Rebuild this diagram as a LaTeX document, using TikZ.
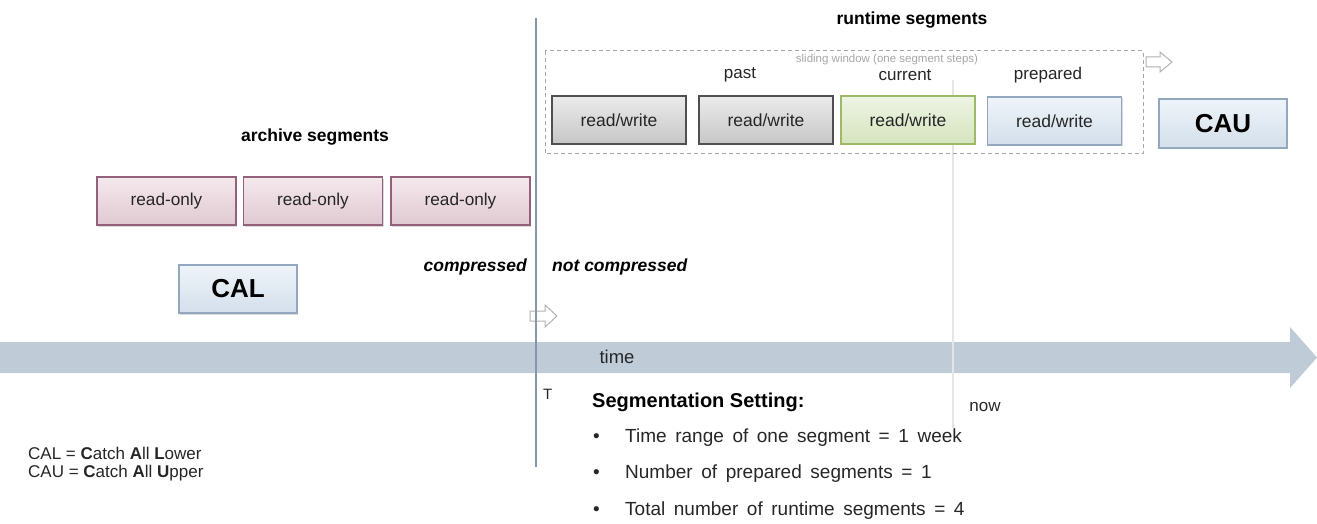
\documentclass[tikz,border=0pt]{standalone}
\usepackage{fontspec}
\setmainfont{Liberation Sans}
\usetikzlibrary{shadows}
\newcommand\widespaces{\spaceskip=8.6pt plus 1pt minus 1pt\relax}
\definecolor{band}{HTML}{BFCCD7}
\definecolor{vline}{HTML}{8597A9}
\definecolor{txt}{HTML}{262626}
\definecolor{grayTop}{HTML}{EBEBEB}
\definecolor{grayBot}{HTML}{C6C6C6}
\definecolor{grayBd}{HTML}{505050}
\definecolor{grnTop}{HTML}{EEF4E4}
\definecolor{grnBot}{HTML}{D6E4BE}
\definecolor{grnBd}{HTML}{9DBA68}
\definecolor{bluTop}{HTML}{EFF4F9}
\definecolor{bluBot}{HTML}{D3DFEB}
\definecolor{bluBd}{HTML}{93A7BF}
\definecolor{pnkTop}{HTML}{F4E9ED}
\definecolor{pnkBot}{HTML}{E0C9D1}
\definecolor{pnkBd}{HTML}{93627A}
\begin{document}
\begin{tikzpicture}[x=1pt,y=-1pt,
  seg/.style={draw, line width=1.2pt, minimum height=48pt, inner sep=0pt,
     font=\fontsize{17.5}{20}\selectfont, text=txt,
     drop shadow={shadow xshift=1pt,shadow yshift=-1.5pt,opacity=0.3}},
  graybox/.style={seg, draw=grayBd, top color=grayTop, bottom color=grayBot, minimum width=134pt},
  greenbox/.style={seg, draw=grnBd, top color=grnTop, bottom color=grnBot, minimum width=134pt},
  bluebox/.style={seg, draw=bluBd, top color=bluTop, bottom color=bluBot, minimum width=134pt},
  pinkbox/.style={seg, draw=pnkBd, top color=pnkTop, bottom color=pnkBot, minimum width=139pt, font=\fontsize{17.2}{20}\selectfont},
  catch/.style={seg, draw=bluBd, top color=bluTop, bottom color=bluBot, font=\fontsize{26}{30}\selectfont\bfseries, text=black},
  lbl/.style={font=\fontsize{17}{20}\selectfont, text=txt, inner sep=0pt},
  hdr/.style={font=\fontsize{17.5}{20}\selectfont\bfseries, text=black, inner sep=0pt},
  ital/.style={font=\fontsize{17.5}{20}\selectfont\bfseries\itshape, text=black, inner sep=0pt},
  bul/.style={font=\fontsize{19}{22}\selectfont\widespaces, text=txt, inner sep=0pt, anchor=west},
  hollow/.style={draw=black!30, fill=white, line width=1pt}
]
\useasboundingbox (0,0) rectangle (1317,524);
% time band
\fill[band] (0,342) -- (1290,342) -- (1290,327) -- (1317,357.5) -- (1290,388) -- (1290,373) -- (0,373) -- cycle;
\node[lbl, font=\fontsize{18.5}{22}\selectfont] (time) at (617,357) {time};
% hollow arrow at T
\draw[hollow] (530,311) -- (545,311) -- (545,305) -- (557,316) -- (545,327) -- (545,321) -- (530,321) -- cycle;
% vertical T line
\draw[vline, line width=2pt] (536,18) -- (536,467);
% now line
\draw[black!10, line width=1.3pt] (953,80) -- (953,428);
% runtime segments
\node[hdr] (rt) at (912,20) {runtime segments};
\draw[black!35, line width=1pt, dash pattern=on 4pt off 3pt] (545,51) rectangle (1143,154);
\draw[hollow] (1146,57) -- (1160,57) -- (1160,52) -- (1172,62) -- (1160,72) -- (1160,67) -- (1146,67) -- cycle;
\node[font=\fontsize{11.5}{13}\selectfont, text=black!35, inner sep=0pt] (sw) at (887,60) {sliding window (one segment  steps)};
\node[lbl] (past) at (740,75) {past};
\node[lbl] (cur) at (905,75) {current};
\node[lbl] (prep) at (1048,75) {prepared};
\node[graybox] (rw1) at (619,120) {read/write};
\node[graybox] (rw2) at (766,120) {read/write};
\node[greenbox] (rw3) at (908,120) {read/write};
\node[bluebox] (rw4) at (1054.5,121) {read/write};
\node[catch, minimum width=128pt, minimum height=49pt] (cau) at (1223,123.5) {CAU};
% archive
\node[hdr] (arch) at (315,137) {archive segments};
\node[pinkbox] (ro1) at (166.5,201) {read-only};
\node[pinkbox] (ro2) at (313,201) {read-only};
\node[pinkbox] (ro3) at (460.5,201) {read-only};
\node[catch, minimum width=118pt] (cal) at (238,289) {CAL};
\node[ital, anchor=east] (comp) at (527,267) {compressed};
\node[ital, anchor=west] (ncomp) at (552,267) {not compressed};
% T and now
\node[lbl, font=\fontsize{15}{17}\selectfont, anchor=west] (T) at (543,394) {T};
\node[lbl] (now) at (985,407) {now};
% segmentation setting
\node[hdr, anchor=west, font=\fontsize{20}{24}\selectfont\bfseries] (ss) at (592,402) {Segmentation Setting:};
\node[bul] (b1) at (593,438) {•};
\node[bul] (t1) at (625,438) {Time range of one segment = 1 week};
\node[bul] (b2) at (593,474) {•};
\node[bul] (t2) at (625,474) {Number of prepared segments = 1};
\node[bul] (b3) at (593,511) {•};
\node[bul] (t3) at (625,511) {Total number of runtime segments = 4};
% legend
\node[lbl, anchor=west] (l1) at (28,453) {CAL = \textbf{C}atch \textbf{A}ll \textbf{L}ower};
\node[lbl, anchor=west] (l2) at (28,473) {CAU = \textbf{C}atch \textbf{A}ll \textbf{U}pper};
\end{tikzpicture}
\end{document}
